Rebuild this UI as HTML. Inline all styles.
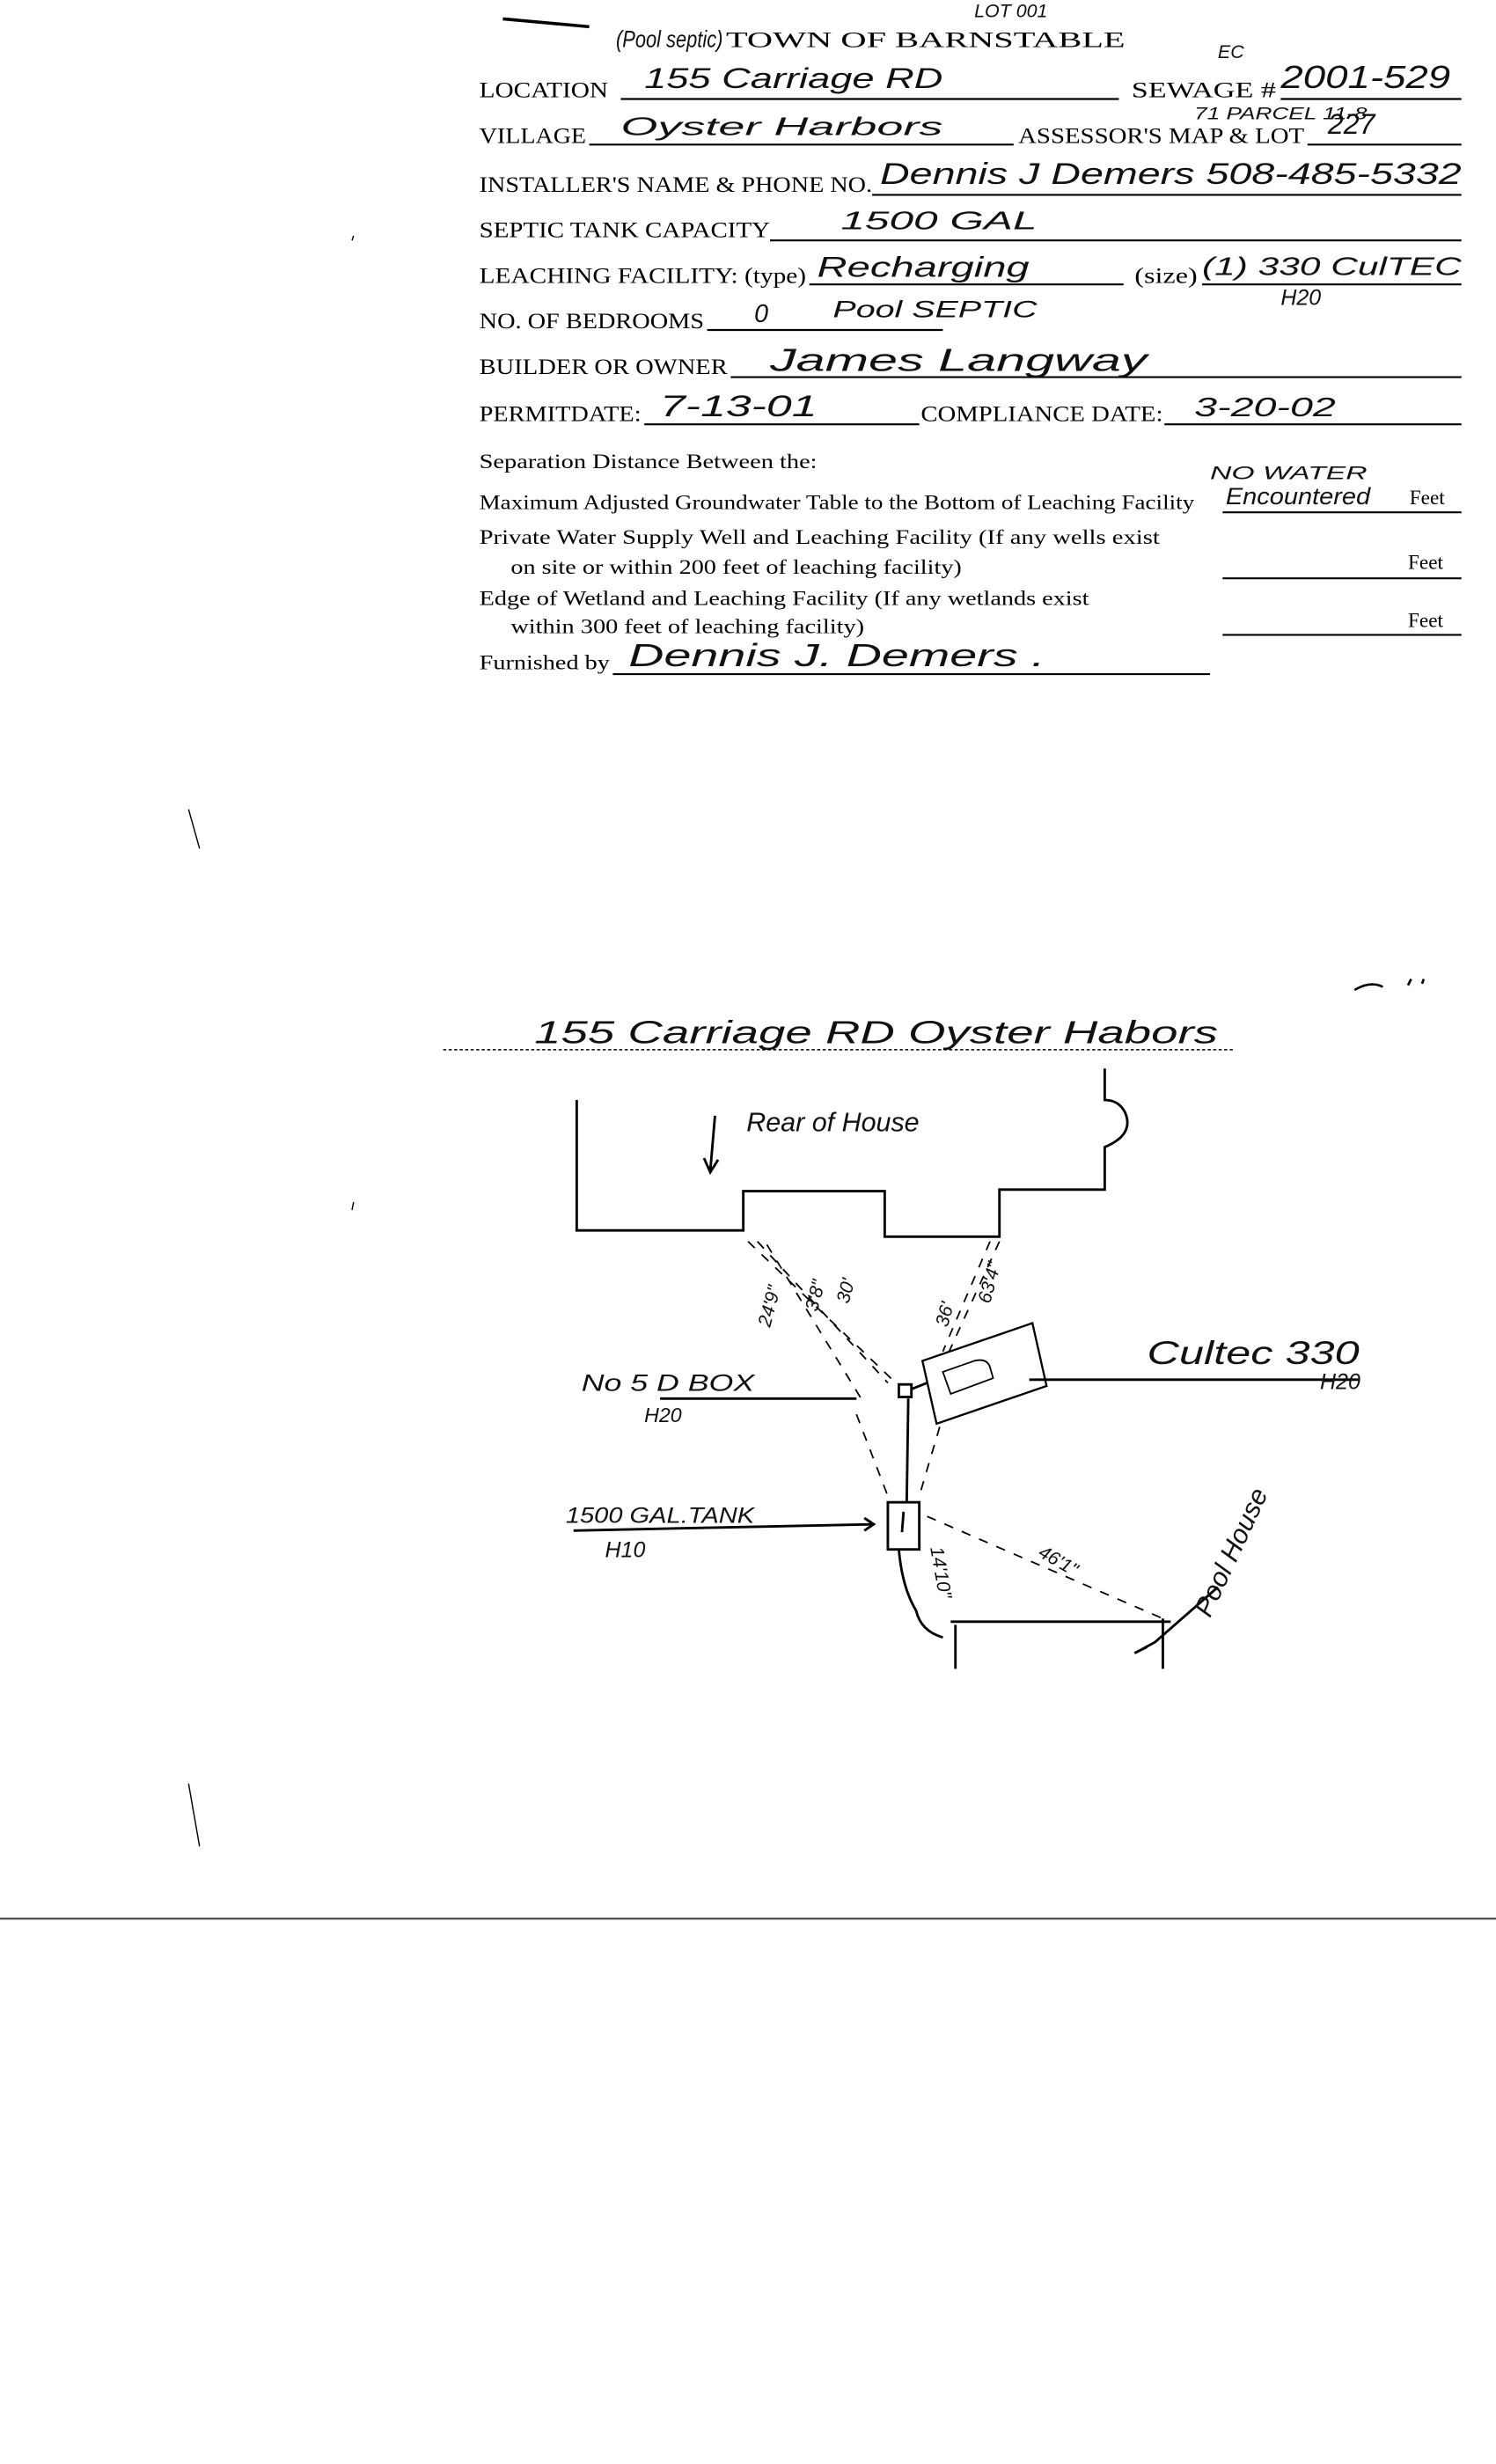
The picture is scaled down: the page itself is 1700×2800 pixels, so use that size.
<!DOCTYPE html>
<html><head><meta charset="utf-8">
<style>
html,body{margin:0;padding:0;background:#fff;}
svg{display:block;}
.l{font-family:"Liberation Serif",serif;font-size:14px;fill:#000;}
.s{font-family:"Liberation Serif",serif;font-size:13px;fill:#000;}
.h{font-family:"Liberation Sans",sans-serif;font-style:italic;fill:#111;}
</style></head>
<body>
<svg width="1700" height="2800" viewBox="0 0 952 1568" xmlns="http://www.w3.org/2000/svg">
<rect width="952" height="1568" fill="#fff"/>
<g stroke="#000" stroke-width="1.2" fill="none">
<path d="M320 12 L375 17" stroke-width="2"/>
<path d="M395 63H712 M815 63H930"/>
<path d="M375 92H645 M832 92H930"/>
<path d="M555 124H930"/>
<path d="M490 153H930"/>
<path d="M515 181H715 M765 181H930"/>
<path d="M450 210H600"/>
<path d="M465 240H930"/>
<path d="M410 270H585 M741 270H930"/>
<path d="M778 326H930 M778 368H930 M778 404H930"/>
<path d="M390 429H770"/>
</g>
<text class="l" x="462" y="30" font-size="15" textLength="254" lengthAdjust="spacingAndGlyphs">TOWN OF BARNSTABLE</text>
<text class="h" x="392" y="30" font-size="15" textLength="68" lengthAdjust="spacingAndGlyphs">(Pool septic)</text>
<text class="h" x="620" y="11" font-size="12">LOT 001</text>
<text class="h" x="775" y="37" font-size="12">EC</text>
<text class="l" x="305" y="62" textLength="82" lengthAdjust="spacingAndGlyphs">LOCATION</text>
<text class="h" x="410" y="56" font-size="18" textLength="190" lengthAdjust="spacingAndGlyphs">155 Carriage RD</text>
<text class="l" x="720" y="62" textLength="92" lengthAdjust="spacingAndGlyphs">SEWAGE #</text>
<text class="h" x="815" y="56" font-size="20" textLength="108" lengthAdjust="spacingAndGlyphs">2001-529</text>
<text class="l" x="305" y="91" textLength="68" lengthAdjust="spacingAndGlyphs">VILLAGE</text>
<text class="h" x="395" y="86" font-size="16" textLength="205" lengthAdjust="spacingAndGlyphs">Oyster Harbors</text>
<text class="l" x="648" y="91" textLength="182" lengthAdjust="spacingAndGlyphs">ASSESSOR'S MAP &amp; LOT</text>
<text class="h" x="760" y="76" font-size="11" textLength="110" lengthAdjust="spacingAndGlyphs">71 PARCEL 11-8</text>
<text class="h" x="845" y="85" font-size="18">227</text>
<text class="l" x="305" y="122" textLength="250" lengthAdjust="spacingAndGlyphs">INSTALLER'S NAME &amp; PHONE NO.</text>
<text class="h" x="560" y="117" font-size="19" textLength="370" lengthAdjust="spacingAndGlyphs">Dennis J Demers 508-485-5332</text>
<text class="l" x="305" y="151" textLength="185" lengthAdjust="spacingAndGlyphs">SEPTIC TANK CAPACITY</text>
<text class="h" x="535" y="146" font-size="16" textLength="125" lengthAdjust="spacingAndGlyphs">1500 GAL</text>
<text class="l" x="305" y="180" textLength="208" lengthAdjust="spacingAndGlyphs">LEACHING FACILITY: (type)</text>
<text class="h" x="520" y="176" font-size="18" textLength="135" lengthAdjust="spacingAndGlyphs">Recharging</text>
<text class="l" x="722" y="180" textLength="40" lengthAdjust="spacingAndGlyphs">(size)</text>
<text class="h" x="765" y="175" font-size="16" textLength="165" lengthAdjust="spacingAndGlyphs">(1) 330 CulTEC</text>
<text class="h" x="815" y="194" font-size="14">H20</text>
<text class="l" x="305" y="209" textLength="143" lengthAdjust="spacingAndGlyphs">NO. OF BEDROOMS</text>
<text class="h" x="480" y="205" font-size="16">0</text>
<text class="h" x="530" y="202" font-size="15" textLength="130" lengthAdjust="spacingAndGlyphs">Pool SEPTIC</text>
<text class="l" x="305" y="238" textLength="158" lengthAdjust="spacingAndGlyphs">BUILDER OR OWNER</text>
<text class="h" x="490" y="236" font-size="20" textLength="240" lengthAdjust="spacingAndGlyphs">James Langway</text>
<text class="l" x="305" y="268" textLength="103" lengthAdjust="spacingAndGlyphs">PERMITDATE:</text>
<text class="h" x="420" y="265" font-size="19" textLength="100" lengthAdjust="spacingAndGlyphs">7-13-01</text>
<text class="l" x="586" y="268" textLength="154" lengthAdjust="spacingAndGlyphs">COMPLIANCE DATE:</text>
<text class="h" x="760" y="265" font-size="17" textLength="90" lengthAdjust="spacingAndGlyphs">3-20-02</text>
<text class="s" x="305" y="298" textLength="215" lengthAdjust="spacingAndGlyphs">Separation Distance Between the:</text>
<text class="h" x="770" y="305" font-size="12" textLength="100" lengthAdjust="spacingAndGlyphs">NO WATER</text>
<text class="s" x="305" y="324" textLength="455" lengthAdjust="spacingAndGlyphs">Maximum Adjusted Groundwater Table to the Bottom of Leaching Facility</text>
<text class="h" x="780" y="321" font-size="15" textLength="92" lengthAdjust="spacingAndGlyphs">Encountered</text>
<text class="s" x="897" y="321">Feet</text>
<text class="s" x="305" y="346" textLength="433" lengthAdjust="spacingAndGlyphs">Private Water Supply Well and Leaching Facility  (If any wells exist</text>
<text class="s" x="325" y="365" textLength="287" lengthAdjust="spacingAndGlyphs">on site or within 200 feet of leaching facility)</text>
<text class="s" x="896" y="362">Feet</text>
<text class="s" x="305" y="385" textLength="388" lengthAdjust="spacingAndGlyphs">Edge of Wetland and Leaching Facility (If any wetlands exist</text>
<text class="s" x="325" y="403" textLength="225" lengthAdjust="spacingAndGlyphs">within 300 feet of leaching facility)</text>
<text class="s" x="896" y="399">Feet</text>
<text class="s" x="305" y="426" textLength="83" lengthAdjust="spacingAndGlyphs">Furnished by</text>
<text class="h" x="400" y="424" font-size="20" textLength="265" lengthAdjust="spacingAndGlyphs">Dennis J. Demers .</text>

<text class="h" x="340" y="664" font-size="20" textLength="435" lengthAdjust="spacingAndGlyphs">155 Carriage RD   Oyster Habors</text>
<path d="M282 668H785" stroke="#000" stroke-width="0.8" stroke-dasharray="2 1.5" fill="none"/>
<path d="M862 630 Q872 624 880 628 M896 627 L898 623 M905 626 L906 623" stroke="#000" stroke-width="1.5" fill="none"/>
<g stroke="#000" stroke-width="1.6" fill="none">
<path d="M367 700V783H473V758H563V787H636V757H703V730 Q722 722 716 708 Q712 700 703 700V680"/>
<path d="M587 866 L657 842 L666 882 L596 906 Z" stroke-width="1.3"/>
<path d="M600 873 L620 866 Q628 864 630 870 L632 877 L605 887 Z" stroke-width="1"/>
<path d="M655 878H865"/>
<path d="M420 890H545"/>
<rect x="572" y="881" width="8" height="8"/>
<path d="M580 884L590 880"/>
<path d="M578 890L577 956"/>
<rect x="565" y="956" width="20" height="30"/>
<path d="M575 962L574 975"/>
<path d="M365 974L555 970"/>
<path d="M550 966L556 970L550 974"/>
<path d="M572 986 Q574 1010 583 1025 Q586 1038 600 1042"/>
<path d="M605 1032H745"/>
<path d="M608 1034V1062 M740 1030V1062"/>
<path d="M775 1010 L735 1045 L722 1052 L730 1048"/>
<path d="M455 710 L452 745 M448 737 L452 746 L457 738"/>
</g>
<g stroke="#000" stroke-width="1" stroke-dasharray="6 6" fill="none">
<path d="M476 790 L570 880"/>
<path d="M482 790 L565 880"/>
<path d="M488 792 L548 890"/>
<path d="M636 790 L604 860"/>
<path d="M630 790 L600 860"/>
<path d="M545 900 L565 952"/>
<path d="M598 908 L585 952"/>
<path d="M590 965 L740 1030"/>
</g>
<text class="h" x="475" y="720" font-size="17" textLength="110" lengthAdjust="spacingAndGlyphs">Rear of House</text>
<text class="h" x="730" y="868" font-size="21" textLength="135" lengthAdjust="spacingAndGlyphs">Cultec 330</text>
<text class="h" x="840" y="884" font-size="14">H20</text>
<text class="h" x="370" y="885" font-size="15" textLength="110" lengthAdjust="spacingAndGlyphs">No 5 D BOX</text>
<text class="h" x="410" y="905" font-size="13">H20</text>
<text class="h" x="360" y="969" font-size="14" textLength="120" lengthAdjust="spacingAndGlyphs">1500 GAL.TANK</text>
<text class="h" x="385" y="991" font-size="14">H10</text>
<text class="h" font-size="12" transform="translate(490 845) rotate(-75)">24'9"</text>
<text class="h" font-size="12" transform="translate(520 835) rotate(-75)">3'8"</text>
<text class="h" font-size="12" transform="translate(540 830) rotate(-75)">30'</text>
<text class="h" font-size="12" transform="translate(603 845) rotate(-75)">36'</text>
<text class="h" font-size="12" transform="translate(630 830) rotate(-75)">63'4"</text>
<text class="h" font-size="12" transform="translate(592 985) rotate(80)">14'10"</text>
<text class="h" font-size="12" transform="translate(660 990) rotate(30)">46'1"</text>
<text class="h" font-size="17" transform="translate(770 1030) rotate(-65)">Pool House</text>
<path d="M0 1221H952" stroke="#444" stroke-width="1.2"/>
<g stroke="#000" stroke-width="0.8" fill="none">
<path d="M120 515L127 540 M120 1135L127 1175 M225 150L224 153 M225 765L224 770"/>
</g>
</svg>
</body></html>
